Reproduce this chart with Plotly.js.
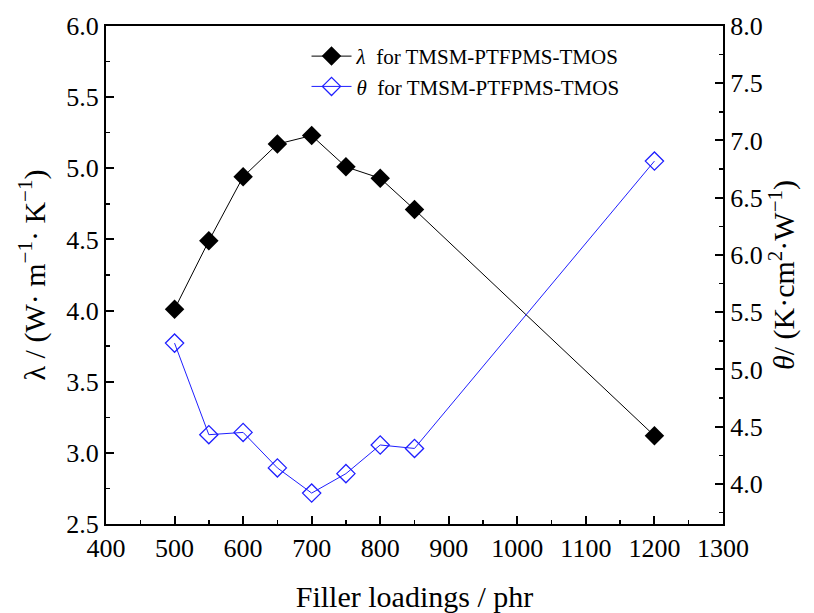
<!DOCTYPE html>
<html>
<head>
<meta charset="utf-8">
<script src="https://cdn.plot.ly/plotly-3.0.1.min.js"></script>
<style>html,body{margin:0;padding:0;background:#fff;}#chart{width:814px;height:613px;}</style>
</head>
<body>
<div id="chart"></div>
<script>
const fillerLoadings = [500, 550, 600, 650, 700, 750, 800, 850, 1200];
const lambdaValues = [4.01, 4.49, 4.94, 5.17, 5.23, 5.01, 4.93, 4.71, 3.12];
const thetaValues = [5.23, 4.43, 4.45, 4.14, 3.92, 4.09, 4.34, 4.31, 6.82];
const lambdaName = '<i>λ</i>  for TMSM-PTFPMS-TMOS';
const thetaName = '<i>θ</i>  for TMSM-PTFPMS-TMOS';

const FONT = 'Liberation Serif';

const traces = [
  {
    x: fillerLoadings, y: lambdaValues, name: lambdaName, type: 'scatter', mode: 'lines+markers',
    line: {color: '#000000', width: 1},
    marker: {symbol: 'diamond', size: 15, color: '#000000'},
    yaxis: 'y'
  },
  {
    x: fillerLoadings, y: thetaValues, name: thetaName, type: 'scatter', mode: 'lines+markers',
    line: {color: '#1f1fff', width: 1},
    marker: {symbol: 'diamond-open', size: 14, color: '#1f1fff', line: {width: 1.3}},
    yaxis: 'y2'
  }
];

const layout = {
  width: 814, height: 613,
  margin: {l: 106, r: 91, t: 26, b: 89},
  paper_bgcolor: '#ffffff', plot_bgcolor: '#ffffff',
  font: {family: FONT, size: 26, color: '#000000'},
  showlegend: true,
  legend: {x: 0.325, y: 0.98, xanchor: 'left', yanchor: 'top', bgcolor: 'rgba(0,0,0,0)',
           font: {family: FONT, size: 21, color: '#000'}, tracegroupgap: 0, itemwidth: 40},
  xaxis: {
    range: [400, 1300], dtick: 100, tick0: 400,
    showline: true, linecolor: '#000', linewidth: 2, mirror: true,
    ticks: 'inside', ticklen: 8, tickwidth: 2, tickcolor: '#000',
    minor: {ticks: 'inside', ticklen: 4, tickwidth: 1.5, dtick: 50, tickcolor: '#000'},
    showgrid: false, zeroline: false,
    tickfont: {family: FONT, size: 26, color: '#000'},
    title: {text: 'Filler loadings / phr', font: {family: FONT, size: 30, color: '#000'}, standoff: 34}
  },
  yaxis: {
    range: [2.5, 6.0], dtick: 0.5, tick0: 2.5, tickformat: '.1f',
    showline: true, linecolor: '#000', linewidth: 2,
    ticks: 'inside', ticklen: 8, tickwidth: 2, tickcolor: '#000',
    minor: {ticks: 'inside', ticklen: 4, tickwidth: 1.5, dtick: 0.25, tickcolor: '#000'},
    showgrid: false, zeroline: false,
    tickfont: {family: FONT, size: 26, color: '#000'},
    title: {text: 'λ / (W· m<sup>−1</sup>· K<sup>−1</sup>)', font: {family: FONT, size: 30, color: '#000'}, standoff: 12}
  },
  yaxis2: {
    range: [3.65, 8.0], dtick: 0.5, tick0: 4.0, tickformat: '.1f',
    overlaying: 'y', side: 'right',
    showline: true, linecolor: '#000', linewidth: 2,
    ticks: 'inside', ticklen: 8, tickwidth: 2, tickcolor: '#000',
    minor: {ticks: 'inside', ticklen: 4, tickwidth: 1.5, dtick: 0.25, tickcolor: '#000'},
    showgrid: false, zeroline: false,
    tickfont: {family: FONT, size: 26, color: '#000'},
    title: {text: '<i>θ</i>/ (K·cm<sup>2</sup>·W<sup>−1</sup>)', font: {family: FONT, size: 30, color: '#000'}, standoff: 8}
  }
};

Plotly.newPlot('chart', traces, layout, {displayModeBar: false, staticPlot: true});
</script>
</body>
</html>
